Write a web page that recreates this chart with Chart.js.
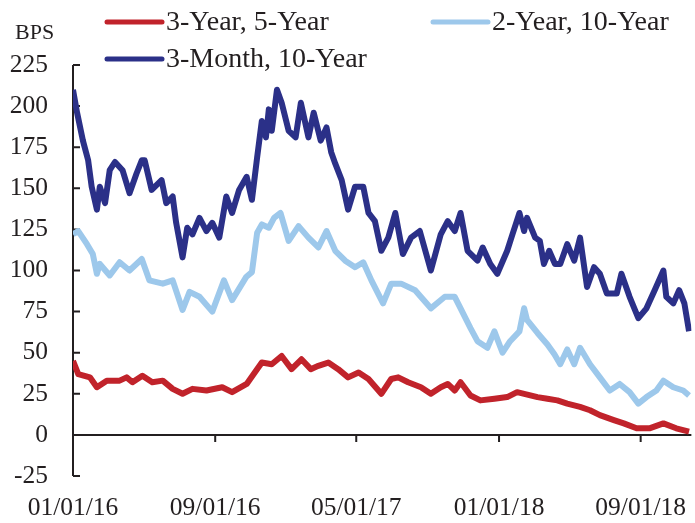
<!DOCTYPE html>
<html>
<head>
  <meta charset="utf-8">
  <title>Yield Curve Spreads</title>
  <script src="https://cdn.jsdelivr.net/npm/chart.js@4"></script>
  <style>
    body { margin: 0; padding: 0; background: #ffffff; }
    #wrap { width: 695px; height: 523px; }
  </style>
</head>
<body>
  <div id="wrap"><canvas id="spreadChart" width="695" height="523"></canvas></div>

  <script>
    // x values are days since 01/01/16
    const tickDays = [0, 244, 486, 731, 974];
    const tickLabels = ['01/01/16', '09/01/16', '05/01/17', '01/01/18', '09/01/18'];
    const xMaxDay = 1061;

    // 3-Year, 5-Year spread (bps)
    const redDays = [0,9,29,41,58,80,92,102,119,136,154,171,188,205,229,256,273,298,314,324,
      341,358,375,392,408,421,438,455,472,490,507,529,546,558,575,597,614,631,643,655,
      665,682,699,723,745,762,797,814,831,848,870,887,904,928,945,967,989,1013,1035,1057];
    const redVals = [45,37,35,29,33,33,35,32,36,32,33,28,25,28,27,29,26,31,39,44,
      43,48,40,46,40,42,44,40,35,38,34,25,34,35,32,29,25,29,31,27,
      32,24,21,22,23,26,23,22,21,19,17,15,12,9,7,4,4,7,4,2];

    // 2-Year, 10-Year spread (bps)
    const lightDays = [0,9,24,34,41,46,63,80,97,118,131,154,171,188,200,217,239,259,273,297,
      307,316,324,336,345,356,370,387,404,421,435,450,467,484,498,512,532,546,563,587,
      614,638,655,665,682,694,711,723,737,750,766,774,779,797,814,826,836,848,860,870,
      887,904,921,938,955,970,984,1001,1013,1030,1047,1057];
    const lightVals = [122,124,116,110,98,104,97,105,100,107,94,92,94,76,87,84,75,94,82,96,
      99,123,128,126,132,135,118,127,120,114,124,112,106,102,105,94,80,92,92,88,
      77,84,84,77,65,57,53,63,50,57,63,77,70,62,55,49,43,52,43,53,
      43,35,27,31,26,19,23,27,33,29,27,24];

    // 3-Month, 10-Year spread (bps)
    const darkDays = [0,7,17,26,32,41,46,55,63,72,85,97,109,118,123,135,152,160,171,177,
      188,196,205,217,229,239,251,263,273,285,298,307,316,324,331,336,341,350,358,370,
      382,391,404,413,425,435,443,450,461,472,484,498,507,518,529,541,553,566,580,595,
      614,631,643,655,665,677,694,703,716,728,745,754,766,774,779,793,801,808,817,827,
      836,848,860,870,882,894,904,916,933,941,955,970,984,998,1013,1018,1030,1040,1049,1057];
    const darkVals = [210,196,179,167,151,137,151,141,161,166,161,147,159,167,167,149,155,141,145,129,
      108,126,122,132,124,129,120,145,135,149,157,143,169,191,181,198,185,210,202,185,
      181,202,181,196,179,187,172,165,155,137,151,151,135,130,112,120,135,110,120,124,
      100,122,130,124,135,112,106,114,104,98,112,122,135,124,132,120,118,104,112,104,
      104,116,106,120,90,102,98,86,86,98,84,71,77,88,100,84,80,88,80,63];

    const pts = (days, vals) => days.map((d, i) => ({ x: d, y: vals[i] }));
    const inkColor = '#231f20';
    const fontFamily = '"Liberation Serif", "Times New Roman", serif';

    // axis lines with inward y ticks and a zero line with downward ticks
    const axesPlugin = {
      id: 'axesPlugin',
      beforeDatasetsDraw(chart) {
        const { ctx, scales: { x, y } } = chart;
        const y0 = y.getPixelForValue(0);
        ctx.save();
        ctx.strokeStyle = inkColor;
        ctx.lineWidth = 2;
        ctx.beginPath();
        ctx.moveTo(x.left, y.top);
        ctx.lineTo(x.left, y.bottom);
        y.ticks.forEach(t => {
          const py = y.getPixelForValue(t.value);
          ctx.moveTo(x.left, py);
          ctx.lineTo(x.left + 7, py);
        });
        ctx.moveTo(x.left, y0);
        ctx.lineTo(x.right, y0);
        x.ticks.forEach(t => {
          const px = x.getPixelForValue(t.value);
          ctx.moveTo(px, y0);
          ctx.lineTo(px, y0 + 7);
        });
        ctx.stroke();
        ctx.restore();
      }
    };

    // legend in the top band, two columns
    const legendPlugin = {
      id: 'legendPlugin',
      afterDraw(chart) {
        const ctx = chart.ctx;
        const slots = [[107, 22], [433, 22], [107, 59]];
        ctx.save();
        ctx.textBaseline = 'middle';
        ctx.font = '28px ' + fontFamily;
        chart.data.datasets.forEach((ds, i) => {
          const [lx, ly] = slots[i];
          ctx.strokeStyle = ds.borderColor;
          ctx.lineWidth = 5;
          ctx.lineCap = 'round';
          ctx.beginPath();
          ctx.moveTo(lx, ly);
          ctx.lineTo(lx + 55, ly);
          ctx.stroke();
          ctx.fillStyle = inkColor;
          ctx.fillText(ds.label, lx + 59, ly + 1);
        });
        ctx.font = '22px ' + fontFamily;
        ctx.fillText('BPS', 15, 33);
        ctx.restore();
      }
    };

    const lineStyle = { borderWidth: 6, pointRadius: 0, tension: 0, fill: false, borderJoinStyle: 'round' };

    new Chart(document.getElementById('spreadChart'), {
      type: 'line',
      data: {
        datasets: [
          { label: '3-Year, 5-Year', data: pts(redDays, redVals), borderColor: '#c1232b', ...lineStyle },
          { label: '2-Year, 10-Year', data: pts(lightDays, lightVals), borderColor: '#9dc8eb', ...lineStyle },
          { label: '3-Month, 10-Year', data: pts(darkDays, darkVals), borderColor: '#2b3088', ...lineStyle }
        ]
      },
      options: {
        responsive: false,
        animation: false,
        layout: { padding: { top: 65, right: 0, left: 0, bottom: 0 } },
        plugins: {
          legend: { display: false },
          tooltip: { enabled: false }
        },
        scales: {
          x: {
            type: 'linear',
            min: 0,
            max: xMaxDay,
            grid: { display: false },
            border: { display: false },
            afterBuildTicks: scale => { scale.ticks = tickDays.map(v => ({ value: v })); },
            afterFit: scale => { scale.height = 47; },
            ticks: {
              autoSkip: false,
              maxRotation: 0,
              padding: 9,
              color: inkColor,
              font: { family: fontFamily, size: 25.5 },
              callback: (value) => tickLabels[tickDays.indexOf(value)]
            }
          },
          y: {
            min: -25,
            max: 225,
            grid: { display: false },
            border: { display: false },
            afterFit: scale => { scale.width = 73; },
            ticks: {
              stepSize: 25,
              padding: 17,
              color: inkColor,
              font: { family: fontFamily, size: 25.5 }
            }
          }
        }
      },
      plugins: [axesPlugin, legendPlugin]
    });
  </script>
</body>
</html>
